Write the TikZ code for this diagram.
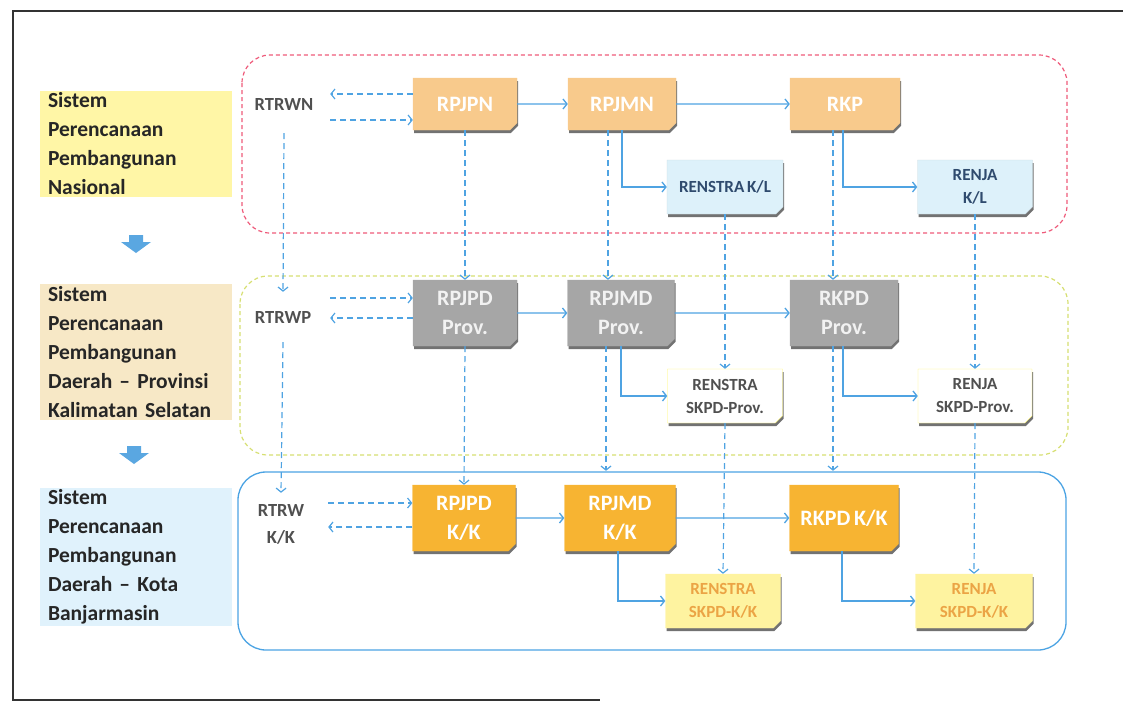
\documentclass[tikz,border=0pt]{standalone}
\usepackage{fontspec}
\setmainfont{Carlito}[WordSpace={0.75,0.5,0.5}]
\usetikzlibrary{arrows.meta,shapes.misc,shadows,calc}
\definecolor{lineblue}{HTML}{4FA3E2}
\definecolor{blockblue}{HTML}{5AA7E1}
\definecolor{regred}{HTML}{EE5A7A}
\definecolor{reggreen}{HTML}{D6DF72}
\definecolor{regblue}{HTML}{4BA3E3}
\definecolor{labyellow}{HTML}{FFF6A6}
\definecolor{labbeige}{HTML}{F7E8C6}
\definecolor{labblue}{HTML}{E0F2FC}
\definecolor{boxpeach}{HTML}{F8CA8C}
\definecolor{boxgray}{HTML}{A6A6A6}
\definecolor{boxgold}{HTML}{F7B432}
\definecolor{smallblue}{HTML}{DDF1FA}
\definecolor{smallyellow}{HTML}{FEF3A0}
\definecolor{navytext}{HTML}{2F4B6E}
\definecolor{orangetext}{HTML}{EBA445}
\definecolor{darktext}{HTML}{262626}
\definecolor{graytext}{HTML}{505050}
\tikzset{
  conn/.style={draw=lineblue, line width=1.3pt, -{Straight Barb[length=4pt,width=10pt]}},
  dconn/.style={conn, line width=1.2pt, dash pattern=on 6pt off 4pt},
  boxbase/.style={chamfered rectangle, chamfered rectangle corners=south east,
    chamfered rectangle xsep=4pt, chamfered rectangle angle=45, inner sep=0pt,
    drop shadow={shadow xshift=1pt, shadow yshift=-3pt, fill=black!65, opacity=0.85},
    align=center},
  bigbox/.style={boxbase, text=white, font=\fontsize{22}{29}\selectfont\bfseries},
  smallbox/.style={boxbase, minimum height=54pt, font=\fontsize{17}{23}\selectfont\bfseries},
  rowA/.style={bigbox, fill=boxpeach, draw=boxpeach, minimum height=52pt},
  rowB/.style={bigbox, fill=boxgray, draw=boxgray, text=white!95!black, minimum height=66pt},
  rowC/.style={bigbox, fill=boxgold, draw=boxgold, minimum height=66pt},
  smallA/.style={smallbox, fill=smallblue, draw=smallblue!80!gray, text=navytext},
  smallB/.style={smallbox, fill=white, draw=yellow!60!white, text=graytext},
  smallC/.style={smallbox, fill=smallyellow, draw=smallyellow, text=orangetext},
  rtrw/.style={inner sep=0pt, align=center, text=graytext, font=\fontsize{18.5}{27}\selectfont\bfseries},
  lab/.style={inner xsep=8pt, inner ysep=2pt, text width=176pt, align=left, text=darktext,
    font=\fontsize{21.5}{29}\selectfont\bfseries},
  region/.style={rounded corners=28pt, line width=1.2pt},
  downarr/.pic={\fill[blockblue] (-7,0) -- (7,0) -- (7,7) -- (15,7) -- (0,18) -- (-15,7) -- (-7,7) -- cycle;}
}
\begin{document}
\begin{tikzpicture}[x=1pt,y=-1pt]
\useasboundingbox (0,0) rectangle (1123,702);
% outer frame
\draw[line width=2.5pt, black!80] (1123,11) -- (13,11) -- (13,700) -- (600,700);

% regions
\draw[region, draw=regred, dash pattern=on 4pt off 3pt] (242,55) rectangle (1067,233);
\draw[region, draw=reggreen, dash pattern=on 4pt off 3pt] (240,276) rectangle (1068,455);
\draw[region, draw=regblue, line width=1.3pt] (238,472) rectangle (1066,650);

% left labels
\node[lab, fill=labyellow] (l1) at (136,144) {Sistem\\Perencanaan\\Pembangunan\\Nasional};
\node[lab, fill=labbeige] (l2) at (136,352) {Sistem\\Perencanaan\\Pembangunan\\Daerah -- Provinsi\\Kalimatan Selatan};
\node[lab, fill=labblue] (l3) at (136,557) {Sistem\\Perencanaan\\Pembangunan\\Daerah -- Kota\\Banjarmasin};
\pic at (136,235) {downarr};
\pic at (134,446) {downarr};

% row 1
\node[rtrw, minimum width=92pt, minimum height=58pt] (rtrwn) at (284,104) {RTRWN};
\node[rowA, minimum width=104pt] (rpjpn) at (465,104) {RPJPN};
\node[rowA, minimum width=108pt] (rpjmn) at (622,104) {RPJMN};
\node[rowA, minimum width=110pt] (rkp) at (845,104) {RKP};
\node[smallA, minimum width=116pt] (renstrakl) at (725,187) {RENSTRA K/L};
\node[smallA, minimum width=115pt] (renjakl) at (975,187) {RENJA\\K/L};

% row 2
\node[rtrw, minimum width=94pt, minimum height=50pt] (rtrwp) at (283,317) {RTRWP};
\node[rowB, minimum width=104pt] (rpjpdp) at (465,313) {RPJPD\\Prov.};
\node[rowB, minimum width=107pt] (rpjmdp) at (621,313) {RPJMD\\Prov.};
\node[rowB, minimum width=108pt] (rkpdp) at (844,313) {RKPD\\Prov.};
\node[smallB, minimum width=115pt] (renstrap) at (725,396) {RENSTRA\\SKPD-Prov.};
\node[smallB, minimum width=114pt] (renjap) at (975,396) {RENJA\\SKPD-Prov.};

% row 3
\node[rtrw, minimum width=94pt, minimum height=62pt] (rtrwk) at (281,524) {RTRW\\K/K};
\node[rowC, minimum width=103pt] (rpjpdk) at (464,518) {RPJPD\\K/K};
\node[rowC, minimum width=111pt] (rpjmdk) at (620,518) {RPJMD\\K/K};
\node[rowC, minimum width=109pt] (rkpdk) at (844,518) {RKPD K/K};
\node[smallC, minimum width=115pt] (renstrak) at (723,601) {RENSTRA\\SKPD-K/K};
\node[smallC, minimum width=117pt] (renjak) at (974,601) {RENJA\\SKPD-K/K};

% row 1 connectors
\draw[conn] (rpjpn) -- (rpjmn);
\draw[conn] (rpjmn) -- (rkp);
\draw[conn] (rpjmn.south) |- (renstrakl.west);
\draw[conn] ($(rkp.south)+(-2,0)$) |- (renjakl.west);
\draw[dconn] ($(rpjpn.west)+(0,-10)$) -- ($(rtrwn.east)+(0,-10)$);
\draw[dconn] ($(rtrwn.east)+(0,16)$) -- ($(rpjpn.west)+(0,16)$);

% row 2 connectors
\draw[conn] (rpjpdp) -- (rpjmdp);
\draw[conn] (rpjmdp) -- (rkpdp);
\draw[conn] (rpjmdp.south) |- (renstrap.west);
\draw[conn] ($(rkpdp.south)+(-1,0)$) |- (renjap.west);
\draw[dconn] ($(rpjpdp.west -| rtrwp.east)+(0,-15)$) -- ($(rpjpdp.west)+(0,-15)$);
\draw[dconn] ($(rpjpdp.west)+(0,5)$) -- ($(rpjpdp.west -| rtrwp.east)+(0,5)$);

% row 3 connectors
\draw[conn] (rpjpdk) -- (rpjmdk);
\draw[conn] (rpjmdk) -- (rkpdk);
\draw[conn] ($(rpjmdk.south)+(-2,0)$) |- (renstrak.west);
\draw[conn] ($(rkpdk.south)+(-2,0)$) |- (renjak.west);
\draw[dconn] ($(rpjpdk.west -| rtrwk.east)+(0,-15)$) -- ($(rpjpdk.west)+(0,-15)$);
\draw[dconn] ($(rpjpdk.west)+(0,9)$) -- ($(rpjpdk.west -| rtrwk.east)+(0,9)$);

% vertical dashed links
\draw[dconn] (rtrwn.south) -- (rtrwp.north);
\draw[dconn] (rtrwp.south) -- (rtrwk.north);
\draw[dconn] (rpjpn.south) -- (rpjpdp.north);
\draw[dconn] ($(rpjmn.south)+(-14,0)$) -- ($(rpjmn.south |- rpjmdp.north)+(-14,0)$);
\draw[dconn] ($(rkp.south)+(-12,0)$) -- ($(rkp.south |- rkpdp.north)+(-12,0)$);
\draw[dconn] (renstrakl.south) -- (renstrap.north);
\draw[dconn] (renjakl.south) -- (renjap.north);
\draw[dconn] (rpjpdp.south) -- (rpjpdk.north);
\draw[dconn, shorten >=14pt] ($(rpjmdp.south)+(-15,0)$) -- ($(rpjmdp.south |- rpjmdk.north)+(-15,0)$);
\draw[dconn, shorten >=14pt] ($(rkpdp.south)+(-11,0)$) -- ($(rkpdp.south |- rkpdk.north)+(-11,0)$);
\draw[dconn] (renstrap.south) -- (renstrak.north);
\draw[dconn] (renjap.south) -- (renjak.north);
\end{tikzpicture}
\end{document}
